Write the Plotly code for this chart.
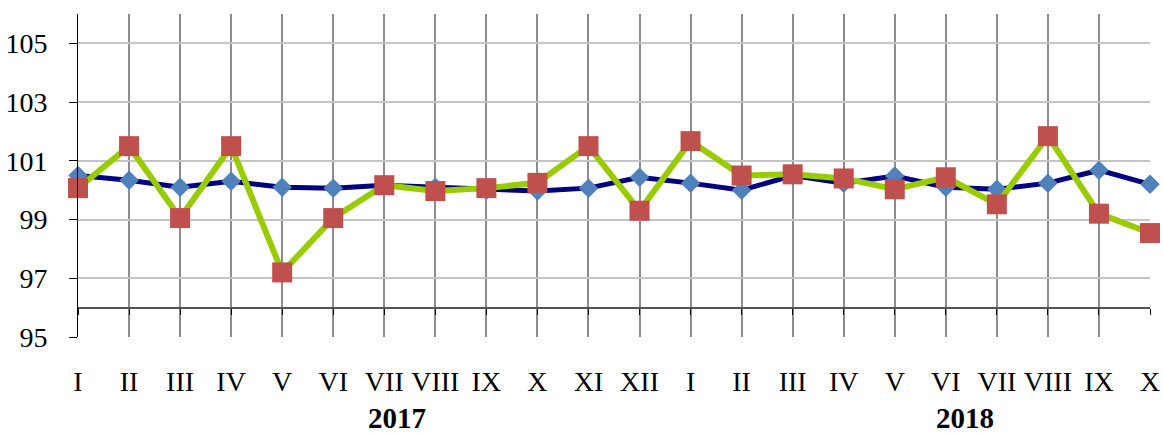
import plotly.graph_objects as go

months = ["I", "II", "III", "IV", "V", "VI", "VII", "VIII", "IX", "X", "XI", "XII",
          "I", "II", "III", "IV", "V", "VI", "VII", "VIII", "IX", "X"]
blue_values = [100.5, 100.34, 100.1, 100.3, 100.1, 100.07, 100.17, 100.1, 100.0, 99.97, 100.07, 100.44,
               100.24, 100.0, 100.5, 100.24, 100.48, 100.1, 100.03, 100.24, 100.68, 100.2]
red_values = [100.07, 101.5, 99.05, 101.5, 97.2, 99.05, 100.17, 99.97, 100.07, 100.25, 101.5, 99.3,
              101.67, 100.5, 100.54, 100.4, 100.03, 100.44, 99.52, 101.84, 99.2, 98.54]
years = ["2017", "2018"]
y_ticks = [95, 97, 99, 101, 103, 105]

x = list(range(len(months)))
FONT = "Liberation Serif, Times New Roman, serif"

fig = go.Figure()
fig.add_trace(go.Scatter(
    x=x, y=blue_values, mode="lines+markers", cliponaxis=False,
    line=dict(color="#000080", width=5),
    marker=dict(symbol="diamond", size=15, color="#4F81BD", line=dict(width=0)),
    showlegend=False,
))
fig.add_trace(go.Scatter(
    x=x, y=red_values, mode="lines+markers", cliponaxis=False,
    line=dict(color="#99CC00", width=6),
    marker=dict(symbol="square", size=20, color="#C0504D", line=dict(width=0)),
    showlegend=False,
))
# invisible trace on secondary x axis to hold the axis crossing at 96
fig.add_trace(go.Scatter(x=[0], y=[96], xaxis="x2", mode="markers",
                         marker=dict(opacity=0), showlegend=False, hoverinfo="skip"))

fig.update_layout(
    width=1163, height=433,
    margin=dict(l=78, r=13, t=14, b=96),
    paper_bgcolor="white", plot_bgcolor="white",
    font=dict(family=FONT, color="black", size=28),
    xaxis=dict(
        range=[0, len(months) - 1], tickvals=x, ticktext=months,
        showgrid=True, gridcolor="#8C8C8C", gridwidth=2,
        showline=False, zeroline=False, automargin=False,
        ticks="", ticklabelstandoff=25,
        tickfont=dict(family=FONT, size=28, color="black"),
    ),
    xaxis2=dict(
        range=[0, len(months) - 1], tickvals=x, overlaying="x",
        anchor="free", position=(96 - 95) / (106 - 95), automargin=False,
        showline=True, linecolor="#555555", linewidth=2,
        ticks="outside", ticklen=6, tickcolor="black", tickwidth=1,
        showticklabels=False, showgrid=False, zeroline=False,
    ),
    yaxis=dict(
        range=[95, 106], tickvals=y_ticks, automargin=False,
        showgrid=True, gridcolor="#C4C4C4", gridwidth=2,
        showline=True, linecolor="black", linewidth=1,
        ticks="outside", ticklen=8, tickcolor="black",
        zeroline=False, ticklabelstandoff=16,
        tickfont=dict(family=FONT, size=28, color="black"),
    ),
    annotations=[
        dict(text="<b>%s</b>" % years[0], xref="paper", yref="paper", x=0.2976, y=-0.25,
             xanchor="center", yanchor="middle", showarrow=False,
             font=dict(family=FONT, size=29, color="black")),
        dict(text="<b>%s</b>" % years[1], xref="paper", yref="paper", x=0.827, y=-0.25,
             xanchor="center", yanchor="middle", showarrow=False,
             font=dict(family=FONT, size=29, color="black")),
    ],
)

fig.write_html("out.html", config={"displayModeBar": False},
               post_script="document.body.style.margin='0';")
